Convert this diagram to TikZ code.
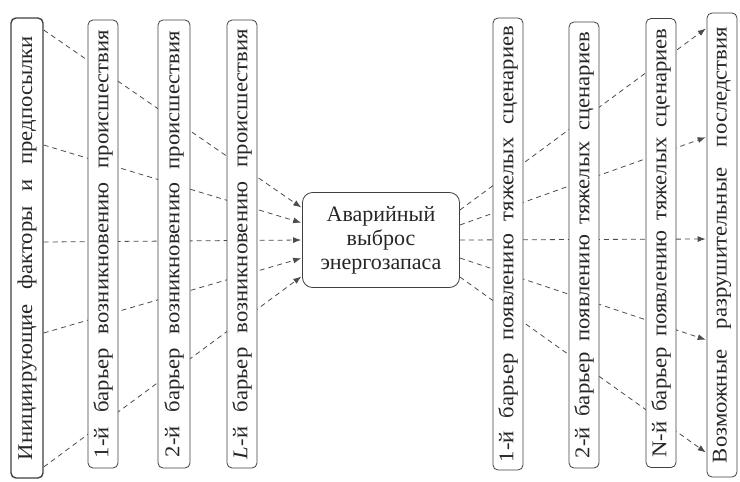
\documentclass[tikz,border=0pt]{standalone}
\usepackage{fontspec}
\setmainfont{Liberation Serif}
\newfontfamily\wideserif[FakeStretch=1.08]{Liberation Serif}
\usetikzlibrary{arrows.meta}
\pgfdeclarelayer{background}
\pgfsetlayers{background,main}

\tikzset{
  vbox/.style={draw=black!75, line width=0.8pt, rounded corners=5pt, fill=white, rotate=90,
    inner sep=0pt, minimum height=30pt, text=black!85, font=\wideserif\fontsize{21}{22}\selectfont},
  link/.style={draw=black!70, line width=0.8pt, dash pattern=on 5pt off 4pt},
  tip/.style={-{Latex[length=8pt,width=6pt]}, shorten >=1pt}
}

\begin{document}
\begin{tikzpicture}[x=1pt,y=-1pt]
        \useasboundingbox (0,0) rectangle (740,482);

        % Nodes
        \node (init) at (27,248)  [vbox, minimum width=460pt, minimum height=32pt, line width=1.4pt] {\makebox[424pt][s]{Инициирующие факторы и предпосылки}};
        \node (b1)   at (103,244) [vbox, minimum width=448pt] {\makebox[428pt][s]{1-й барьер возникновению происшествия}};
        \node (b2)   at (174,244) [vbox, minimum width=448pt, minimum height=32pt] {\makebox[426pt][s]{2-й барьер возникновению происшествия}};
        \node (bl)   at (242,244) [vbox, minimum width=448pt] {\makebox[430pt][s]{\textit{L}-й барьер возникновению происшествия}};
        \node (acc)  at (381,240) [draw=black!75, line width=0.8pt, rounded corners=10pt, fill=white,
          minimum width=157pt, minimum height=95pt, align=center, text=black!85,
          font=\fontsize{22}{24}\selectfont] {Аварийный\\выброс\\энергозапаса};
        \node (s1)   at (508,244) [vbox, minimum width=452pt] {\makebox[436pt][s]{1-й барьер появлению тяжелых сценариев}};
        \node (s2)   at (584,245) [vbox, minimum width=446pt] {\makebox[426pt][s]{2-й барьер появлению тяжелых сценариев}};
        \node (sn)   at (661,243) [vbox, minimum width=449pt] {\makebox[429pt][s]{N-й барьер появлению тяжелых сценариев}};
        \node (cons) at (722,245) [vbox, minimum width=464pt] {\makebox[436pt][s]{Возможные разрушительные последствия}};

        % Edges
        \begin{pgfonlayer}{background}
        \draw[link, tip] (init.south |- 0,30)  -- (acc.west |- 0,208);
        \draw[link, tip] (init.south |- 0,145) -- (acc.west |- 0,223);
        \draw[link, tip] (init.south |- 0,242) -- (acc.west |- 0,240);
        \draw[link, tip] (init.south |- 0,333) -- (acc.west |- 0,258);
        \draw[link, tip] (init.south |- 0,467) -- (acc.west |- 0,276);

        \draw[link, tip] (acc.east |- 0,210) -- (cons.north |- 0,28);
        \draw[link, tip] (acc.east |- 0,225) -- (cons.north |- 0,137);
        \draw[link, tip] (acc.east |- 0,240) -- (cons.north |- 0,239);
        \draw[link, tip] (acc.east |- 0,258) -- (cons.north |- 0,340);
        \draw[link, tip] (acc.east |- 0,277) -- (cons.north |- 0,453);
        \end{pgfonlayer}
      \end{tikzpicture}
\end{document}
